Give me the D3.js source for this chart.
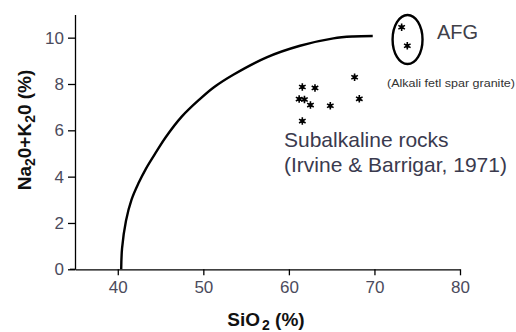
<!DOCTYPE html>
<html>
<head>
<meta charset="utf-8">
<script src="https://cdn.jsdelivr.net/npm/d3@7"></script>
<style>
  body { margin: 0; background: #fff; }
  text { font-family: "Liberation Sans", Arial, sans-serif; }
</style>
</head>
<body>
<script>
// chart size
var svgWidth = 516;
var svgHeight = 332;

// boundary curve (Irvine & Baragar)
var curveSiO2   = [40.4, 40.5, 40.96, 41.6, 42.4, 43.3, 44.55, 45.6, 47.5, 49.6, 51.2, 53.5, 57.4, 61.3, 65.2, 67.5, 69.8];
var curveAlkali = [0, 0.9, 2.1, 3, 3.7, 4.35, 5.1, 5.7, 6.6, 7.35, 7.85, 8.4, 9.15, 9.65, 9.97, 10.05, 10.07];

// subalkaline samples
var sampleSiO2   = [61.57, 63.05, 61.2, 61.82, 62.52, 64.84, 67.68, 68.23, 61.57];
var sampleAlkali = [7.87, 7.83, 7.35, 7.33, 7.09, 7.06, 8.29, 7.36, 6.40];

// alkali feldspar granite samples
var afgSiO2   = [73.18, 73.84];
var afgAlkali = [10.45, 9.65];

// AFG ellipse (centre and half-axes in data units)
var afgEllipse = { x: 73.87, y: 9.92, rx: 1.75, ry: 1.06 };

var xTicks = [40, 50, 60, 70, 80];
var yTicks = [0, 2, 4, 6, 8, 10];

var svg = d3.select("body")
            .append("svg")
            .attr("width", svgWidth)
            .attr("height", svgHeight);

var x = d3.scaleLinear().domain([35, 80]).range([75, 460]);
var y = d3.scaleLinear().domain([0, 11]).range([269.3, 14.5]);

// x axis
var xAxis = svg.append("g")
               .attr("transform", "translate(0," + y(0) + ")")
               .call(d3.axisBottom(x).tickValues(xTicks).tickSize(6).tickSizeOuter(0).tickPadding(6));

// y axis
var yAxis = svg.append("g")
               .attr("transform", "translate(" + x(35) + ",0)")
               .call(d3.axisLeft(y).tickValues(yTicks).tickSize(7).tickSizeOuter(0).tickPadding(4));

[xAxis, yAxis].forEach(function(g) {
  g.select(".domain").attr("stroke", "#000").attr("stroke-width", 1.3);
  g.selectAll(".tick line").attr("stroke", "#000").attr("stroke-width", 1.3);
  g.selectAll(".tick text")
   .style("font-size", "17px")
   .style("font-family", "'Liberation Sans', Arial, sans-serif")
   .attr("fill", "#4b4b5c");
});

// extend the x axis a few px left of the y axis like the original
svg.append("line")
   .attr("x1", x(35) - 5).attr("x2", x(35))
   .attr("y1", y(0)).attr("y2", y(0))
   .attr("stroke", "#000").attr("stroke-width", 1.3);

// boundary curve
var curveData = curveSiO2.map(function(d, i) { return [d, curveAlkali[i]]; });
var line = d3.line()
             .x(function(d) { return x(d[0]); })
             .y(function(d) { return y(d[1]); })
             .curve(d3.curveCatmullRom.alpha(0.5));

svg.append("path")
   .datum(curveData)
   .attr("d", line)
   .attr("fill", "none")
   .attr("stroke", "#000")
   .attr("stroke-width", 2.4);

// sample markers
var marker = d3.symbol().type(d3.symbolAsterisk).size(40);
var allPoints = sampleSiO2.map(function(d, i) { return [d, sampleAlkali[i]]; })
  .concat(afgSiO2.map(function(d, i) { return [d, afgAlkali[i]]; }));

var pts = svg.selectAll(".pt")
             .data(allPoints)
             .enter()
             .append("g")
             .attr("class", "pt")
             .attr("transform", function(d) { return "translate(" + x(d[0]) + "," + y(d[1]) + ")"; });

pts.append("path")
   .attr("d", marker)
   .attr("fill", "none")
   .attr("stroke", "#000")
   .attr("stroke-width", 1.6);

pts.append("rect")
   .attr("x", -1.8).attr("y", -1.8)
   .attr("width", 3.6).attr("height", 3.6)
   .attr("fill", "#000");

// AFG ellipse
svg.append("ellipse")
   .attr("cx", x(afgEllipse.x))
   .attr("cy", y(afgEllipse.y))
   .attr("rx", x(afgEllipse.x + afgEllipse.rx) - x(afgEllipse.x))
   .attr("ry", y(afgEllipse.y) - y(afgEllipse.y + afgEllipse.ry))
   .attr("fill", "none")
   .attr("stroke", "#000")
   .attr("stroke-width", 2.4);

// annotations
svg.append("text")
   .attr("x", 437).attr("y", 38.5)
   .style("font-size", "20px")
   .attr("fill", "#404048")
   .text("AFG");

svg.append("text")
   .attr("x", 387).attr("y", 86.5)
   .attr("textLength", 128)
   .attr("lengthAdjust", "spacingAndGlyphs")
   .style("font-size", "11px")
   .attr("fill", "#333")
   .text("(Alkali fetl spar granite)");

svg.append("text")
   .attr("x", 284).attr("y", 146.7)
   .style("font-size", "21px")
   .attr("fill", "#3a3a4e")
   .text("Subalkaline rocks");

svg.append("text")
   .attr("x", 284).attr("y", 171.7)
   .style("font-size", "21px")
   .attr("fill", "#3a3a4e")
   .text("(Irvine & Barrigar, 1971)");

// x axis title
var xTitle = svg.append("text")
   .attr("x", 266).attr("y", 326)
   .attr("text-anchor", "middle")
   .style("font-size", "19px")
   .style("font-weight", "bold")
   .attr("fill", "#111");
xTitle.append("tspan").text("SiO");
xTitle.append("tspan").attr("dx", 2).attr("dy", 4).style("font-size", "14px").text("2");
xTitle.append("tspan").attr("dy", -4).text(" (%)");

// y axis title
var yTitle = svg.append("text")
   .attr("transform", "translate(31,130) rotate(-90)")
   .attr("text-anchor", "middle")
   .style("font-size", "19px")
   .style("font-weight", "bold")
   .attr("fill", "#111");
yTitle.append("tspan").text("Na");
yTitle.append("tspan").attr("dy", 4).style("font-size", "14px").text("2");
yTitle.append("tspan").attr("dy", -4).text("0+K");
yTitle.append("tspan").attr("dy", 4).style("font-size", "14px").text("2");
yTitle.append("tspan").attr("dy", -4).text("0 (%)");
</script>
</body>
</html>
